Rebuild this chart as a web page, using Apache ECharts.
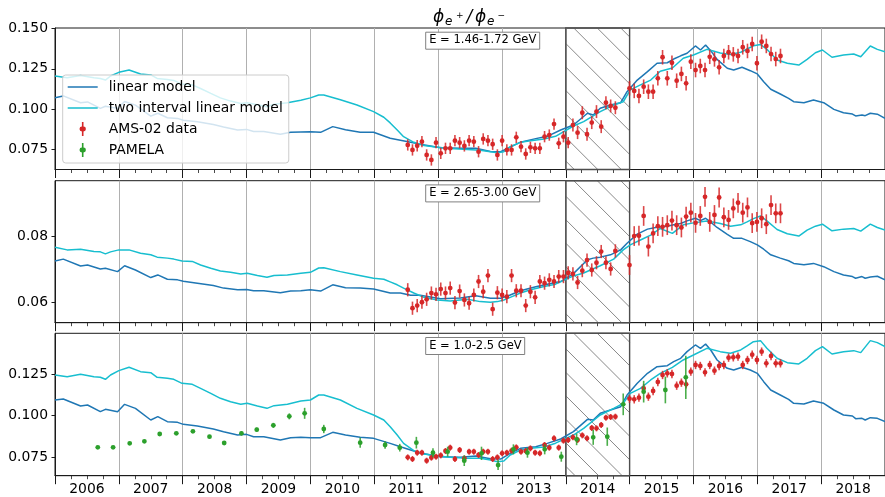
<!DOCTYPE html>
<html>
<head>
<meta charset="utf-8">
<script src="https://cdn.jsdelivr.net/npm/echarts@6/dist/echarts.min.js"></script>
<style>
  html, body { margin: 0; padding: 0; background: #ffffff; }
  #chart { width: 885px; height: 497px; }
</style>
</head>
<body>
<div id="chart"></div>
<script>
// ---- model curves (decimal years) ----
const linYears = [
  2006.00, 2006.13, 2006.40, 2006.51, 2006.71, 2006.79, 2006.98, 2007.09, 2007.26, 2007.50,
  2007.61, 2007.76, 2007.92, 2008.01, 2008.23, 2008.48, 2008.64, 2008.86, 2009.00, 2009.11,
  2009.27, 2009.53, 2009.69, 2009.85, 2010.00, 2010.16, 2010.35, 2010.55, 2010.78, 2010.99,
  2011.25, 2011.41, 2011.57, 2011.72, 2012.04, 2012.35, 2012.59, 2012.82, 2012.98, 2013.13,
  2013.29, 2013.53, 2013.71, 2013.92, 2014.12, 2014.34, 2014.43, 2014.54, 2014.70, 2014.86,
  2014.96, 2015.12, 2015.28, 2015.43, 2015.59, 2015.69, 2015.80, 2015.90, 2016.03, 2016.11,
  2016.19, 2016.27, 2016.37, 2016.53, 2016.63, 2016.76, 2016.89, 2017.00, 2017.10, 2017.21,
  2017.36, 2017.49, 2017.57, 2017.73, 2017.88, 2018.04, 2018.20, 2018.35, 2018.49, 2018.54,
  2018.64, 2018.69, 2018.77, 2018.88, 2019.00
];
// linear model, E = 1.46-1.72 GeV
const linLow = [
  0.1071, 0.1082, 0.1040, 0.1045, 0.1005, 0.1018, 0.1005, 0.1048, 0.1025, 0.0957,
  0.0975, 0.0947, 0.0943, 0.0932, 0.0922, 0.0905, 0.0890, 0.0871, 0.0875, 0.0862,
  0.0862, 0.0845, 0.0857, 0.0859, 0.0861, 0.0857, 0.0892, 0.0873, 0.0857, 0.0857,
  0.0820, 0.0808, 0.0795, 0.0783, 0.0762, 0.0758, 0.0758, 0.0738, 0.0737, 0.0765,
  0.0796, 0.0818, 0.0832, 0.0871, 0.0902, 0.0975, 0.0964, 0.1006, 0.1026, 0.1040,
  0.1108, 0.1180, 0.1232, 0.1284, 0.1287, 0.1310, 0.1330, 0.1346, 0.1391, 0.1366,
  0.1397, 0.1362, 0.1308, 0.1253, 0.1242, 0.1259, 0.1238, 0.1218, 0.1170, 0.1123,
  0.1094, 0.1067, 0.1046, 0.1040, 0.1057, 0.1040, 0.0999, 0.0978, 0.0970, 0.0958,
  0.0964, 0.0960, 0.0975, 0.0969, 0.0944
];
// linear model, E = 2.65-3.00 GeV
const linMid = [
  0.0726, 0.0732, 0.0711, 0.0714, 0.0702, 0.0704, 0.0694, 0.0712, 0.0699, 0.0676,
  0.0684, 0.0671, 0.0669, 0.0665, 0.0659, 0.0652, 0.0644, 0.0639, 0.0640, 0.0636,
  0.0636, 0.0630, 0.0635, 0.0636, 0.0639, 0.0635, 0.0654, 0.0645, 0.0644, 0.0641,
  0.0629, 0.0629, 0.0622, 0.0622, 0.0612, 0.0614, 0.0621, 0.0613, 0.0613, 0.0623,
  0.0636, 0.0648, 0.0656, 0.0664, 0.0688, 0.0730, 0.0735, 0.0738, 0.0745, 0.0760,
  0.0780, 0.0808, 0.0823, 0.0829, 0.0832, 0.0836, 0.0840, 0.0848, 0.0856, 0.0849,
  0.0856, 0.0844, 0.0828, 0.0807, 0.0795, 0.0795, 0.0785, 0.0775, 0.0762, 0.0745,
  0.0735, 0.0727, 0.0719, 0.0715, 0.0719, 0.0709, 0.0694, 0.0684, 0.0679, 0.0674,
  0.0679, 0.0674, 0.0678, 0.0680, 0.0669
];
// linear model, E = 1.0-2.5 GeV
const linWide = [
  0.1094, 0.1100, 0.1058, 0.1064, 0.1024, 0.1038, 0.1024, 0.1068, 0.1044, 0.0974,
  0.0994, 0.0964, 0.0960, 0.0948, 0.0938, 0.0920, 0.0904, 0.0884, 0.0888, 0.0874,
  0.0874, 0.0854, 0.0868, 0.0870, 0.0868, 0.0868, 0.0900, 0.0884, 0.0870, 0.0864,
  0.0834, 0.0814, 0.0794, 0.0776, 0.0754, 0.0750, 0.0758, 0.0742, 0.0740, 0.0774,
  0.0804, 0.0814, 0.0834, 0.0860, 0.0904, 0.0978, 0.0974, 0.1014, 0.1034, 0.1054,
  0.1124, 0.1194, 0.1254, 0.1294, 0.1300, 0.1324, 0.1344, 0.1384, 0.1424, 0.1404,
  0.1430, 0.1394, 0.1334, 0.1284, 0.1274, 0.1290, 0.1274, 0.1254, 0.1204, 0.1154,
  0.1124, 0.1098, 0.1074, 0.1070, 0.1088, 0.1074, 0.1034, 0.1004, 0.0998, 0.0982,
  0.0984, 0.0974, 0.0988, 0.0984, 0.0964
];

const twoYears = [
  2006.00, 2006.19, 2006.40, 2006.61, 2006.71, 2006.79, 2006.87, 2007.00, 2007.16, 2007.34,
  2007.50, 2007.60, 2007.76, 2007.86, 2007.99, 2008.15, 2008.28, 2008.44, 2008.59, 2008.75,
  2008.91, 2009.01, 2009.17, 2009.32, 2009.43, 2009.64, 2009.85, 2010.00, 2010.13, 2010.21,
  2010.47, 2010.73, 2010.99, 2011.15, 2011.25, 2011.36, 2011.46, 2011.62, 2011.78, 2011.99,
  2012.19, 2012.46, 2012.66, 2012.82, 2012.93, 2013.03, 2013.13, 2013.29, 2013.45, 2013.66,
  2013.84, 2014.12, 2014.28, 2014.54, 2014.75, 2014.90, 2015.01, 2015.17, 2015.33, 2015.48,
  2015.67, 2015.84, 2016.00, 2016.21, 2016.42, 2016.58, 2016.74, 2016.84, 2016.94, 2017.05,
  2017.15, 2017.31, 2017.47, 2017.65, 2017.78, 2017.91, 2018.02, 2018.17, 2018.35, 2018.51,
  2018.62, 2018.77, 2018.88, 2019.00
];
const twoLow = [
  0.1205, 0.1195, 0.1208, 0.1195, 0.1190, 0.1180, 0.1205, 0.1228, 0.1242, 0.1218,
  0.1212, 0.1190, 0.1183, 0.1178, 0.1155, 0.1150, 0.1128, 0.1098, 0.1070, 0.1050,
  0.1035, 0.1040, 0.1027, 0.1015, 0.1030, 0.1040, 0.1055, 0.1070, 0.1088, 0.1088,
  0.1058, 0.1026, 0.0985, 0.0950, 0.0915, 0.0871, 0.0830, 0.0795, 0.0775, 0.0764,
  0.0757, 0.0751, 0.0746, 0.0737, 0.0731, 0.0737, 0.0768, 0.0795, 0.0805, 0.0815,
  0.0832, 0.0896, 0.0923, 0.0985, 0.1026, 0.1046, 0.1119, 0.1150, 0.1180, 0.1235,
  0.1255, 0.1315, 0.1335, 0.1370, 0.1348, 0.1338, 0.1352, 0.1372, 0.1392, 0.1400,
  0.1370, 0.1304, 0.1284, 0.1273, 0.1308, 0.1349, 0.1366, 0.1321, 0.1335, 0.1341,
  0.1324, 0.1391, 0.1370, 0.1355
];
const twoMid = [
  0.0768, 0.0760, 0.0762, 0.0755, 0.0754, 0.0748, 0.0754, 0.0760, 0.0760, 0.0750,
  0.0745, 0.0738, 0.0735, 0.0732, 0.0726, 0.0725, 0.0714, 0.0704, 0.0696, 0.0692,
  0.0687, 0.0689, 0.0682, 0.0677, 0.0682, 0.0684, 0.0689, 0.0692, 0.0705, 0.0706,
  0.0694, 0.0684, 0.0674, 0.0671, 0.0663, 0.0654, 0.0644, 0.0629, 0.0616, 0.0608,
  0.0605, 0.0610, 0.0603, 0.0601, 0.0603, 0.0608, 0.0616, 0.0629, 0.0639, 0.0649,
  0.0656, 0.0681, 0.0690, 0.0712, 0.0732, 0.0760, 0.0775, 0.0790, 0.0805, 0.0825,
  0.0810, 0.0836, 0.0842, 0.0848, 0.0840, 0.0832, 0.0836, 0.0845, 0.0855, 0.0863,
  0.0848, 0.0822, 0.0809, 0.0802, 0.0820, 0.0832, 0.0838, 0.0818, 0.0823, 0.0825,
  0.0817, 0.0838, 0.0828, 0.0820
];
const twoWide = [
  0.1244, 0.1234, 0.1248, 0.1234, 0.1230, 0.1218, 0.1244, 0.1270, 0.1290, 0.1264,
  0.1258, 0.1230, 0.1224, 0.1218, 0.1194, 0.1188, 0.1164, 0.1134, 0.1104, 0.1084,
  0.1068, 0.1074, 0.1058, 0.1044, 0.1060, 0.1068, 0.1088, 0.1094, 0.1124, 0.1124,
  0.1094, 0.1044, 0.1004, 0.0974, 0.0934, 0.0884, 0.0834, 0.0790, 0.0770, 0.0758,
  0.0750, 0.0744, 0.0744, 0.0734, 0.0724, 0.0728, 0.0764, 0.0794, 0.0804, 0.0812,
  0.0835, 0.0884, 0.0924, 0.1004, 0.1044, 0.1074, 0.1134, 0.1164, 0.1214, 0.1254,
  0.1290, 0.1334, 0.1364, 0.1404, 0.1384, 0.1374, 0.1394, 0.1418, 0.1444, 0.1450,
  0.1404, 0.1344, 0.1318, 0.1310, 0.1344, 0.1390, 0.1414, 0.1370, 0.1384, 0.1390,
  0.1378, 0.1450, 0.1438, 0.1414
];

// ---- AMS-02 measurements (one per Bartels rotation) ----
const amsYears = [
  2011.525, 2011.599, 2011.673, 2011.747, 2011.821, 2011.895, 2011.968, 2012.042, 2012.116, 2012.190,
  2012.264, 2012.338, 2012.412, 2012.486, 2012.560, 2012.634, 2012.707, 2012.781, 2012.855, 2012.929,
  2013.003, 2013.077, 2013.151, 2013.225, 2013.299, 2013.373, 2013.446, 2013.520, 2013.594, 2013.668,
  2013.742, 2013.816, 2013.890, 2013.964, 2014.038, 2014.112, 2014.185, 2014.259, 2014.333, 2014.407,
  2014.481, 2014.555, 2014.629, 2014.703, 2014.777,
  2014.998, 2015.072, 2015.146, 2015.220, 2015.294, 2015.368, 2015.442, 2015.516, 2015.590, 2015.663,
  2015.737, 2015.811, 2015.885, 2015.959, 2016.033, 2016.107, 2016.181, 2016.255, 2016.329, 2016.402,
  2016.476, 2016.550, 2016.624, 2016.698, 2016.772, 2016.846, 2016.920, 2016.994, 2017.068, 2017.141,
  2017.215, 2017.289, 2017.363
];
const amsLow = [
  0.0779, 0.0748, 0.0774, 0.0799, 0.0717, 0.0686, 0.0793, 0.0727, 0.0758, 0.0758,
  0.0805, 0.0793, 0.0773, 0.0805, 0.0799, 0.0737, 0.0816, 0.0805, 0.0783, 0.0717,
  0.0805, 0.0748, 0.0748, 0.0826, 0.0768, 0.0723, 0.0764, 0.0758, 0.0758, 0.0830,
  0.0840, 0.0908, 0.0789, 0.0830, 0.0793, 0.0902, 0.0855, 0.0978, 0.0845, 0.0917,
  0.0985, 0.0892, 0.1040, 0.1020, 0.1009,
  0.1129, 0.1113, 0.1082, 0.1139, 0.1108, 0.1108, 0.1191, 0.1321, 0.1191, 0.1287,
  0.1176, 0.1218, 0.1160, 0.1294, 0.1242, 0.1267, 0.1242, 0.1324, 0.1308, 0.1259,
  0.1329, 0.1352, 0.1339, 0.1329, 0.1383, 0.1360, 0.1403, 0.1284, 0.1417, 0.1391,
  0.1341, 0.1310, 0.1329
];
const amsLowErr = [
  0.0035, 0.0035, 0.0035, 0.0035, 0.0035, 0.0035, 0.0035, 0.0035, 0.0035, 0.0035,
  0.0035, 0.0035, 0.0035, 0.0035, 0.0035, 0.0035, 0.0035, 0.0035, 0.0035, 0.0035,
  0.0035, 0.0035, 0.0035, 0.0035, 0.0035, 0.0035, 0.0035, 0.0035, 0.0035, 0.0035,
  0.0035, 0.0035, 0.0035, 0.0035, 0.0035, 0.0040, 0.0040, 0.0040, 0.0040, 0.0040,
  0.0040, 0.0040, 0.0040, 0.0040, 0.0040,
  0.0045, 0.0045, 0.0045, 0.0045, 0.0045, 0.0045, 0.0045, 0.0045, 0.0045, 0.0045,
  0.0045, 0.0045, 0.0045, 0.0045, 0.0045, 0.0045, 0.0045, 0.0045, 0.0045, 0.0045,
  0.0045, 0.0045, 0.0045, 0.0045, 0.0045, 0.0045, 0.0045, 0.0045, 0.0045, 0.0045,
  0.0045, 0.0045, 0.0045
];
const amsMid = [
  0.0639, 0.0583, 0.0591, 0.0601, 0.0610, 0.0629, 0.0625, 0.0641, 0.0629, 0.0644,
  0.0600, 0.0635, 0.0608, 0.0598, 0.0623, 0.0664, 0.0633, 0.0682, 0.0580, 0.0630,
  0.0623, 0.0618, 0.0682, 0.0636, 0.0636, 0.0591, 0.0633, 0.0616, 0.0664, 0.0659,
  0.0669, 0.0664, 0.0679, 0.0679, 0.0690, 0.0687, 0.0661, 0.0697, 0.0729, 0.0699,
  0.0721, 0.0755, 0.0721, 0.0702, 0.0757,
  0.0714, 0.0802, 0.0803, 0.0863, 0.0770, 0.0810, 0.0832, 0.0830, 0.0835, 0.0849,
  0.0835, 0.0828, 0.0861, 0.0873, 0.0842, 0.0863, 0.0921, 0.0845, 0.0866, 0.0919,
  0.0859, 0.0851, 0.0886, 0.0903, 0.0873, 0.0889, 0.0841, 0.0845, 0.0856, 0.0838,
  0.0896, 0.0871, 0.0871
];
const amsMidErr = [
  0.0020, 0.0020, 0.0020, 0.0020, 0.0020, 0.0020, 0.0020, 0.0020, 0.0020, 0.0020,
  0.0020, 0.0020, 0.0020, 0.0020, 0.0020, 0.0020, 0.0020, 0.0020, 0.0020, 0.0020,
  0.0020, 0.0020, 0.0020, 0.0020, 0.0020, 0.0020, 0.0020, 0.0020, 0.0020, 0.0020,
  0.0020, 0.0020, 0.0020, 0.0020, 0.0020, 0.0020, 0.0020, 0.0020, 0.0020, 0.0020,
  0.0020, 0.0020, 0.0020, 0.0020, 0.0020,
  0.0030, 0.0030, 0.0030, 0.0030, 0.0030, 0.0030, 0.0030, 0.0030, 0.0030, 0.0030,
  0.0030, 0.0030, 0.0030, 0.0030, 0.0030, 0.0030, 0.0030, 0.0030, 0.0030, 0.0030,
  0.0030, 0.0030, 0.0030, 0.0030, 0.0030, 0.0030, 0.0030, 0.0030, 0.0030, 0.0030,
  0.0030, 0.0030, 0.0030
];
const amsWide = [
  0.0750, 0.0740, 0.0778, 0.0778, 0.0730, 0.0748, 0.0754, 0.0762, 0.0788, 0.0808,
  0.0740, 0.0794, 0.0744, 0.0784, 0.0784, 0.0764, 0.0784, 0.0784, 0.0740, 0.0750,
  0.0774, 0.0778, 0.0790, 0.0810, 0.0784, 0.0788, 0.0804, 0.0778, 0.0774, 0.0824,
  0.0808, 0.0864, 0.0808, 0.0850, 0.0854, 0.0870, 0.0854, 0.0882, 0.0864, 0.0926,
  0.0924, 0.0944, 0.0988, 0.0992, 0.0994,
  0.1102, 0.1098, 0.1108, 0.1164, 0.1114, 0.1148, 0.1202, 0.1244, 0.1254, 0.1250,
  0.1180, 0.1198, 0.1188, 0.1264, 0.1304, 0.1298, 0.1260, 0.1304, 0.1270, 0.1298,
  0.1304, 0.1348, 0.1350, 0.1354, 0.1304, 0.1334, 0.1366, 0.1334, 0.1384, 0.1314,
  0.1358, 0.1314, 0.1314
];
const amsWideErr = [
  0.0018, 0.0018, 0.0018, 0.0018, 0.0018, 0.0018, 0.0018, 0.0018, 0.0018, 0.0018,
  0.0018, 0.0018, 0.0018, 0.0018, 0.0018, 0.0018, 0.0018, 0.0018, 0.0018, 0.0018,
  0.0018, 0.0018, 0.0018, 0.0018, 0.0018, 0.0018, 0.0018, 0.0018, 0.0018, 0.0018,
  0.0018, 0.0018, 0.0018, 0.0018, 0.0018, 0.0018, 0.0018, 0.0018, 0.0018, 0.0018,
  0.0018, 0.0018, 0.0018, 0.0018, 0.0018,
  0.0025, 0.0025, 0.0025, 0.0025, 0.0025, 0.0025, 0.0025, 0.0025, 0.0025, 0.0025,
  0.0025, 0.0025, 0.0025, 0.0025, 0.0025, 0.0025, 0.0025, 0.0025, 0.0025, 0.0025,
  0.0025, 0.0025, 0.0025, 0.0025, 0.0025, 0.0025, 0.0025, 0.0025, 0.0025, 0.0025,
  0.0025, 0.0025, 0.0025
];

// ---- PAMELA measurements (1.0-2.5 GeV) ----
const pamelaYears = [
  2006.67, 2006.91, 2007.17, 2007.40, 2007.64, 2007.90, 2008.16, 2008.42, 2008.65, 2008.92,
  2009.16, 2009.42, 2009.67, 2009.91, 2010.21, 2010.78, 2011.17, 2011.40, 2011.66, 2011.92,
  2012.15, 2012.41, 2012.68, 2012.94, 2013.18, 2013.40, 2013.67, 2013.93, 2014.17, 2014.43,
  2014.65, 2014.90, 2015.22, 2015.56, 2015.88
];
const pamelaVals = [
  0.0810, 0.0810, 0.0834, 0.0846, 0.0890, 0.0894, 0.0906, 0.0874, 0.0836, 0.0894,
  0.0916, 0.0942, 0.0996, 0.1014, 0.0920, 0.0838, 0.0824, 0.0808, 0.0838, 0.0778,
  0.0784, 0.0730, 0.0774, 0.0704, 0.0798, 0.0778, 0.0798, 0.0754, 0.0858, 0.0870,
  0.0874, 0.1068, 0.1144, 0.1154, 0.1230
];
const pamelaErr = [
  0.0009, 0.0009, 0.0009, 0.0009, 0.0009, 0.0009, 0.0010, 0.0010, 0.0010, 0.0012,
  0.0012, 0.0015, 0.0018, 0.0033, 0.0025, 0.0030, 0.0022, 0.0023, 0.0035, 0.0027,
  0.0030, 0.0032, 0.0040, 0.0030, 0.0030, 0.0030, 0.0030, 0.0030, 0.0035, 0.0045,
  0.0055, 0.0065, 0.0065, 0.0080, 0.0130
];

// hatched interval and axis ticks
const excludedSpan = [2014.0, 2015.0];
const yearTicks = [2006, 2007, 2008, 2009, 2010, 2011, 2012, 2013, 2014, 2015, 2016, 2017, 2018, 2019];
const yearLabelValues = [2006.5, 2007.5, 2008.5, 2009.5, 2010.5, 2011.5, 2012.5, 2013.5, 2014.5, 2015.5, 2016.5, 2017.5, 2018.5];
const yTicksLow = [0.075, 0.100, 0.125, 0.150];
const yTicksMid = [0.06, 0.08];
const yTicksWide = [0.075, 0.100, 0.125];
const panelLabels = ['E = 1.46-1.72 GeV', 'E = 2.65-3.00 GeV', 'E = 1.0-2.5 GeV'];

// ---- styling ----
const FONT = 'DejaVu Sans';
const C_LIN = '#1f77b4';
const C_TWO = '#17becf';
const C_AMS = '#d62728';
const C_PAM = '#2ca02c';

const panels = [
  { lin: linLow,  two: twoLow,  ams: amsLow,  err: amsLowErr,  ticks: yTicksLow,  digits: 3, yMin: 0.0627, yMax: 0.1502, top: 28,    height: 141.5 },
  { lin: linMid,  two: twoMid,  ams: amsMid,  err: amsMidErr,  ticks: yTicksMid,  digits: 2, yMin: 0.0539, yMax: 0.0970, top: 180.7, height: 142 },
  { lin: linWide, two: twoWide, ams: amsWide, err: amsWideErr, ticks: yTicksWide, digits: 3, yMin: 0.0640, yMax: 0.1494, top: 333.3, height: 142.4 }
];

const zip = (xs, ys) => xs.map((x, i) => [x, ys[i]]);

// diagonal hatching clipped to the span rectangle
function hatchRender(params, api) {
  const cs = params.coordSys;
  const x1 = api.coord([api.value(0), 0])[0];
  const x2 = api.coord([api.value(1), 0])[0];
  const y1 = cs.y, y2 = cs.y + cs.height;
  const step = 23.5;
  const c0 = x1 + 8 - y1;
  const kids = [];
  const nLo = Math.floor((x1 - y2 - c0) / step) - 1;
  const nHi = Math.ceil((x2 - y1 - c0) / step) + 1;
  for (let n = nLo; n <= nHi; n++) {
    const c = c0 + n * step;
    const lo = Math.max(y1, x1 - c);
    const hi = Math.min(y2, x2 - c);
    if (hi > lo) {
      kids.push({ type: 'line', shape: { x1: lo + c, y1: lo, x2: hi + c, y2: hi },
        style: { stroke: '#7a7a7a', lineWidth: 0.9 } });
    }
  }
  kids.push({ type: 'rect', shape: { x: x1, y: y1, width: x2 - x1, height: y2 - y1 },
    style: { fill: 'none', stroke: '#4d4d4d', lineWidth: 1.4 } });
  return { type: 'group', children: kids };
}

// vertical error bar with a small round marker
function errRender(params, api) {
  const x = api.value(0), y = api.value(1), e = api.value(2);
  const c = api.coord([x, y]);
  const hi = api.coord([x, y + e]);
  const lo = api.coord([x, y - e]);
  const color = api.visual('color');
  return {
    type: 'group',
    children: [
      { type: 'line', shape: { x1: c[0], y1: hi[1], x2: c[0], y2: lo[1] },
        style: { stroke: color, lineWidth: 1.6, opacity: 0.85 } },
      { type: 'circle', shape: { cx: c[0], cy: c[1], r: 2.4 },
        style: { fill: color } }
    ]
  };
}

const grids = [], xAxes = [], yAxes = [], series = [], labelBoxes = [];

panels.forEach((p, k) => {
  grids.push({ left: 55, width: 830, top: p.top, height: p.height, show: true,
    borderColor: '#1a1a1a', borderWidth: 1, backgroundColor: 'transparent' });

  xAxes.push({
    gridIndex: k, type: 'value', min: 2006, max: 2019, interval: 1,
    axisLine: { show: true, lineStyle: { color: '#1a1a1a', width: 1 } },
    axisTick: { show: true, customValues: yearTicks, length: 8.5, lineStyle: { color: '#1a1a1a', width: 1 } },
    minorTick: { show: true, splitNumber: 4, length: 3.5, lineStyle: { color: '#1a1a1a', width: 0.8 } },
    axisLabel: {
      show: k === 2, customValues: yearLabelValues, margin: 7,
      formatter: v => String(Math.floor(v)),
      fontFamily: FONT, fontSize: 13.9, color: '#000'
    },
    splitLine: { show: true, lineStyle: { color: '#b0b0b0', width: 1 } }
  });

  yAxes.push({
    gridIndex: k, type: 'value', min: p.yMin, max: p.yMax,
    axisLine: { show: true, lineStyle: { color: '#1a1a1a', width: 1 } },
    axisTick: { show: true, customValues: p.ticks, length: 3.5, lineStyle: { color: '#1a1a1a' } },
    axisLabel: {
      customValues: p.ticks, margin: 7,
      formatter: v => Number(v).toFixed(p.digits),
      fontFamily: FONT, fontSize: 13.9, color: '#000'
    },
    splitLine: { show: false }
  });

  series.push({
    type: 'custom', xAxisIndex: k, yAxisIndex: k, silent: true, z: 1,
    data: [[excludedSpan[0], excludedSpan[1]]],
    renderItem: hatchRender
  });

  series.push({
    type: 'line', name: 'linear model', xAxisIndex: k, yAxisIndex: k,
    data: zip(linYears, p.lin), symbol: 'none', silent: true, z: 3,
    lineStyle: { color: C_LIN, width: 1.5 }, itemStyle: { color: C_LIN }
  });

  series.push({
    type: 'line', name: 'two interval linear model', xAxisIndex: k, yAxisIndex: k,
    data: zip(twoYears, p.two), symbol: 'none', silent: true, z: 4,
    lineStyle: { color: C_TWO, width: 1.5 }, itemStyle: { color: C_TWO }
  });

  series.push({
    type: 'custom', name: 'AMS-02 data', xAxisIndex: k, yAxisIndex: k, silent: true, z: 5,
    data: amsYears.map((t, i) => [t, p.ams[i], p.err[i]]),
    itemStyle: { color: C_AMS }, renderItem: errRender
  });

  labelBoxes.push({
    text: panelLabels[k], left: 425.7, top: p.top + 3.7,
    padding: [2, 3.5, 2, 3.5], borderColor: '#808080', borderWidth: 1,
    backgroundColor: '#ffffff',
    textStyle: { fontFamily: FONT, fontSize: 11.5, fontWeight: 'normal', color: '#000', lineHeight: 13.6 }
  });
});

series.push({
  type: 'custom', name: 'PAMELA', xAxisIndex: 2, yAxisIndex: 2, silent: true, z: 6,
  data: pamelaYears.map((t, i) => [t, pamelaVals[i], pamelaErr[i]]),
  itemStyle: { color: C_PAM }, renderItem: errRender
});

// legend handles: a plain line for the models, a bar with a dot for measurements
const LINE_ICON = 'path://M0,0H30V1.5H0Z';
const ERR_ICON = 'path://M4.2,0H5.8V4.6A2.4,2.4 0 0 1 5.8,9.4V14H4.2V9.4A2.4,2.4 0 0 1 4.2,4.6Z';

// ratio title with sub/superscripts
const tFont = (size, italic) => (italic ? 'italic ' : '') + size + 'px "DejaVu Sans"';
const titleParts = [
  { t: 'ϕ', x: 433,   y: 17.5, f: tFont(17, true) },
  { t: 'e', x: 445,   y: 21.5, f: tFont(12, true) },
  { t: '+', x: 456,   y: 16,   f: tFont(9, false) },
  { t: '/', x: 466.5, y: 17.5, f: tFont(17, true) },
  { t: 'ϕ', x: 475,   y: 17.5, f: tFont(17, true) },
  { t: 'e', x: 487,   y: 21.5, f: tFont(12, true) },
  { t: '−', x: 497.5, y: 16,   f: tFont(9, false) }
];

const chart = echarts.init(document.getElementById('chart'), null, { renderer: 'canvas' });
chart.setOption({
  animation: false,
  backgroundColor: '#ffffff',
  title: labelBoxes,
  grid: grids,
  xAxis: xAxes,
  yAxis: yAxes,
  legend: {
    orient: 'vertical', left: 62.7, top: 75, z: 10,
    itemWidth: 30, itemHeight: 14, itemGap: 7,
    padding: [5, 6, 6, 5],
    backgroundColor: 'rgba(255,255,255,0.8)', borderColor: '#cccccc', borderWidth: 1, borderRadius: 3,
    selectedMode: false,
    textStyle: { fontFamily: FONT, fontSize: 13.9, color: '#000', lineHeight: 14, padding: [0, 0, 0, 6] },
    data: [
      { name: 'linear model', icon: LINE_ICON },
      { name: 'two interval linear model', icon: LINE_ICON },
      { name: 'AMS-02 data', icon: ERR_ICON },
      { name: 'PAMELA', icon: ERR_ICON }
    ]
  },
  graphic: titleParts.map(p => ({
    type: 'text', x: p.x, y: p.y, silent: true,
    style: { text: p.t, font: p.f, fill: '#000', verticalAlign: 'middle', align: 'left' }
  })),
  series: series
});
</script>
</body>
</html>
